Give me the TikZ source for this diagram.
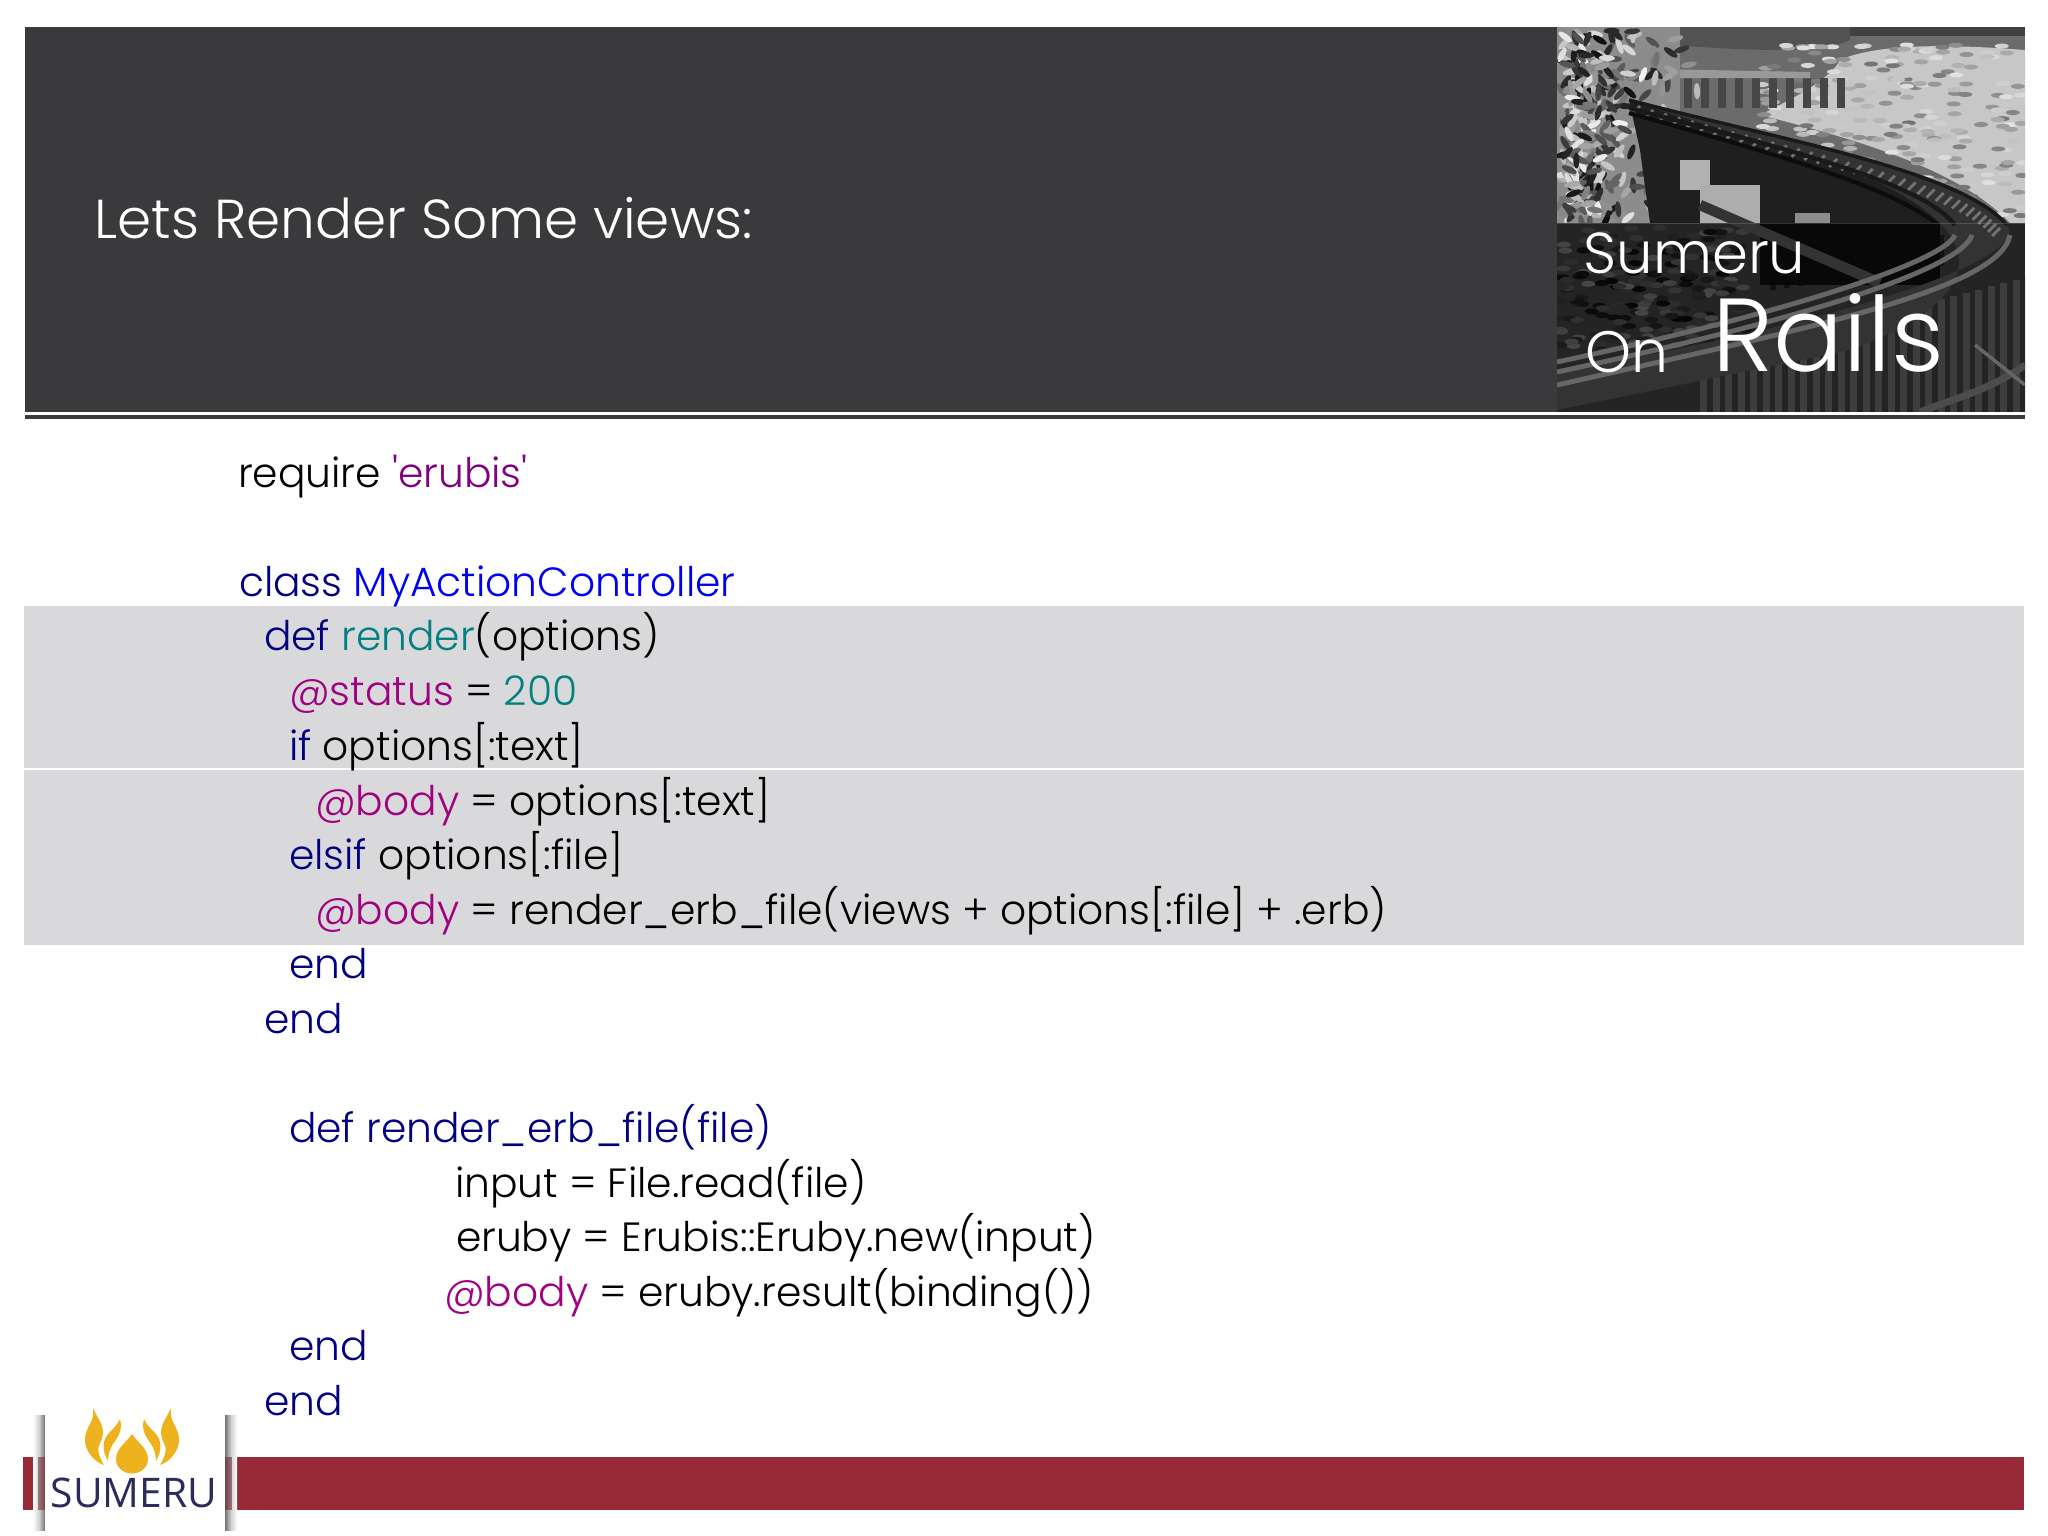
\documentclass[tikz,border=0pt]{standalone}
\usepackage{fontspec}
\setmainfont{Poppins}[UprightFont=* Light]
\newfontfamily\logofont{Open Sans}
\usetikzlibrary{shadings}
\definecolor{hdr}{HTML}{3A3A3C}
\definecolor{kw}{HTML}{000080}
\definecolor{cls}{HTML}{0000F0}
\definecolor{tl}{HTML}{008080}
\definecolor{iv}{HTML}{A00080}
\definecolor{st}{HTML}{800080}
\definecolor{band}{HTML}{D9D9DB}
\definecolor{barred}{HTML}{982A38}
\definecolor{gold}{HTML}{EDB21E}
\definecolor{logotxt}{HTML}{2C2C5A}
\newcommand{\Kw}[1]{\textcolor{kw}{#1}}
\newcommand{\Iv}[1]{\textcolor{iv}{#1}}
\newcommand{\Tl}[1]{\textcolor{tl}{#1}}
\tikzset{
  code/.style={anchor=base west,inner sep=0pt,outer sep=0pt,font=\fontsize{11.6pt}{14pt}\selectfont,text=black},
  titletext/.style={anchor=base west,inner sep=0pt,text=white,font=\fontsize{15.6pt}{18pt}\selectfont},
  phototext/.style={anchor=base west,inner sep=0pt,text=white},
}
\begin{document}
\begin{tikzpicture}[x=0.01cm,y=-0.01cm]
\useasboundingbox (0,0) rectangle (2048,1536);
\fill[white] (0,0) rectangle (2048,1536);
% header
\fill[hdr] (25,27) rectangle (2025,412);
\fill[hdr] (25,415) rectangle (2025,419);
\node[titletext] (title) at (94,238) {Lets Render Some views:};
% photo
\begin{scope}
\clip (1557,27) rectangle (2025,412);
\fill[black!58] (1557,27) rectangle (2025,223);
\fill[black!75] (1557,27) rectangle (2025,36);
\fill[black!68] (1557,36) .. controls (1680,45) and (1810,60) .. (1850,40) -- (1850,27) -- (1557,27) -- cycle;
% hillside
\fill[black!22] (1840,60) .. controls (1880,42) and (1960,45) .. (2025,50) -- (2025,223) -- (2010,223) .. controls (1960,170) and (1860,140) .. (1760,115) .. controls (1790,100) and (1830,80) .. (1840,60) -- cycle;
\pgfmathsetseed{11}
\foreach \i in {1,...,260}{
  \pgfmathsetmacro{\px}{1760+265*rnd}
  \pgfmathsetmacro{\py}{45+175*rnd}
  \pgfmathsetmacro{\sh}{10+45*rnd}
  \fill[black!\sh] (\px,\py) ellipse (7 and 2.5);
}
% fence in background
\foreach \i in {0,...,11}{
  \fill[black!72] ({1650+\i*17},78) rectangle ({1658+\i*17},108);
}
\fill[black!40] (1600,68) -- (1810,72) -- (1810,78) -- (1600,78) -- cycle;
% foliage
\fill[black!45] (1557,27) rectangle (1680,223);
\foreach \i in {1,...,320}{
  \pgfmathsetmacro{\px}{1557+125*rnd*rnd+20*rnd}
  \pgfmathsetmacro{\py}{30+193*rnd}
  \pgfmathsetmacro{\sh}{5+90*rnd}
  \pgfmathsetmacro{\an}{360*rnd}
  \fill[black!\sh,rotate around={\an:(\px,\py)}] (\px,\py) ellipse (8 and 3);
}
% deck, dark structure
\fill[black!88] (1629,100) .. controls (1760,135) and (1900,170) .. (1940,223) -- (1760,223) -- (1650,223) -- (1640,150) -- cycle;
\fill[black!30] (1680,160) rectangle (1710,190);
\fill[black!32] (1700,185) rectangle (1760,223);
\fill[black!45] (1795,213) rectangle (1830,223);
% lower darkened band
\fill[black!86] (1557,223) rectangle (2025,412);
\pgfmathsetseed{5}
\foreach \i in {1,...,220}{
  \pgfmathsetmacro{\px}{1557+190*rnd}
  \pgfmathsetmacro{\py}{226+120*rnd}
  \pgfmathsetmacro{\sh}{72+26*rnd}
  \fill[black!\sh] (\px,\py) ellipse (7 and 3);
}
\foreach \i in {0,...,26}{
  \fill[black!76] ({1700+\i*12.5},{360-\i*3.2}) rectangle ({1707+\i*12.5},412);
}
\foreach \i in {0,...,12}{
  \fill[black!93] ({1770+\i*14},235) rectangle ({1776+\i*14},{290-\i*2});
}
\fill[black!97] (1760,223) rectangle (1940,285);
\draw[black!80,line width=3pt] (1700,205) -- (1880,283);
% rails
\fill[black!80] (1629,100) .. controls (1780,140) and (1960,170) .. (2007,225)
 .. controls (2030,260) and (1850,320) .. (1557,372) -- (1557,410) -- (1850,350)
 .. controls (2010,290) and (1960,230) .. (1910,200) .. controls (1850,160) and (1730,135) .. (1629,100) -- cycle;
\foreach \i in {0,...,34}{
  \pgfmathsetmacro{\tt}{\i/34}
  \draw[black!55,line width=0.8pt]
    ({(1-\tt)*(1-\tt)*(1-\tt)*1640+3*(1-\tt)*(1-\tt)*\tt*1790+3*(1-\tt)*\tt*\tt*1960+\tt*\tt*\tt*2000},
     {(1-\tt)*(1-\tt)*(1-\tt)*106+3*(1-\tt)*(1-\tt)*\tt*150+3*(1-\tt)*\tt*\tt*180+\tt*\tt*\tt*228})
    -- ++(-8,8);
}
\draw[black!90,line width=1pt] (1629,100) .. controls (1780,140) and (1960,170) .. (2007,225);
\draw[black!90,line width=1.2pt] (1629,108) .. controls (1770,145) and (1920,180) .. (1955,225);
\draw[black!95,line width=1.2pt] (1629,113) .. controls (1760,150) and (1890,185) .. (1938,225);
\draw[black!60,line width=1.4pt] (2010,235) .. controls (2000,290) and (1800,330) .. (1557,385);
\draw[black!60,line width=1.4pt] (1972,235) .. controls (1960,270) and (1800,320) .. (1557,372);
\draw[black!60,line width=1.4pt] (1955,235) .. controls (1945,260) and (1800,310) .. (1557,362);
\draw[black!70,line width=2pt] (2025,365) .. controls (1990,390) and (1950,400) .. (1920,412);
\draw[black!60,line width=1pt] (1975,345) -- (2025,385);
% band top edge
\fill[black!30,opacity=.25] (1557,223) rectangle (2025,224);
\end{scope}
\node[phototext,font=\fontsize{16.4pt}{18pt}\selectfont] (sumeru) at (1583,273) {Sumeru};
\node[phototext,font=\fontsize{16.6pt}{18pt}\selectfont] (on) at (1585,372) {On};
\node[phototext,font=\fontsize{29.5pt}{32pt}\selectfont] (rails) at (1712,371) {Rails};
\fill[white] (1557,412.2) rectangle (2025,413.5);
% bands
\fill[band] (24,606) rectangle (2024,768);
\fill[band] (24,770) rectangle (2024,945);
% code
\node[code] (l0) at (238,487) {require \textcolor{st}{\textquotesingle erubis\textquotesingle}};
\node[code] (l2) at (239,596) {\Kw{class} \textcolor{cls}{MyActionController}};
\node[code] (l3) at (264,650.5) {\Kw{def} \Tl{render}(options)};
\node[code] (l4) at (289,705) {\Iv{@status} = \Tl{200}};
\node[code] (l5) at (289,760) {\Kw{if} options[:text]};
\node[code] (l6) at (315,815) {\Iv{@body} = options[:text]};
\node[code] (l7) at (289,869) {\Kw{elsif} options[:file]};
\node[code] (l8) at (315,924) {\Iv{@body} = render\_erb\_file(views + options[:file] + .erb)};
\node[code,text=kw] (l9) at (289,978) {end};
\node[code,text=kw] (l10) at (264,1033) {end};
\node[code,text=kw] (l12) at (289,1142) {def render\_erb\_file(file)};
\node[code] (l13) at (455,1197) {input = File.read(file)};
\node[code] (l14) at (456,1251) {eruby = Erubis::Eruby.new(input)};
\node[code] (l15) at (444,1306) {\Iv{@body} = eruby.result(binding())};
\node[code,text=kw] (l16) at (289,1360) {end};
\node[code,text=kw] (l17) at (264,1415) {end};
% footer bar
\fill[barred] (23,1457) rectangle (2024,1510);
% logo card
\shade[left color=white,right color=black!55,middle color=black!18] (33,1415) rectangle (45,1530);
\shade[left color=black!55,right color=white,middle color=black!18] (225,1415) rectangle (237,1530);
\fill[barred!70!black,opacity=.55] (38,1457) rectangle (45,1510);
\fill[barred!70!black,opacity=.55] (225,1457) rectangle (232,1510);
\fill[white] (45,1412) rectangle (225,1536);
% flames
\begin{scope}[fill=gold]
\fill (132,1434) .. controls (137,1442) and (148,1448) .. (148,1459) .. controls (148,1468) and (140,1473.5) .. (132,1473.5) .. controls (124,1473.5) and (116,1468) .. (116,1459) .. controls (116,1448) and (127,1442) .. (132,1434) -- cycle;
\fill (93,1408) .. controls (98,1420) and (108,1428) .. (100,1443) .. controls (96,1450) and (100,1458) .. (104,1465) .. controls (94,1462) and (84,1450) .. (85,1438) .. controls (86,1426) and (95,1422) .. (93,1408) -- cycle;
\fill (120,1419) .. controls (123,1430) and (118,1437) .. (113,1444) .. controls (110,1449) and (108,1454) .. (108,1461) .. controls (103,1452) and (102,1444) .. (106,1437) .. controls (109,1431) and (116,1428) .. (120,1419) -- cycle;
\fill (171,1408) .. controls (166,1420) and (156,1428) .. (164,1443) .. controls (168,1450) and (164,1458) .. (160,1465) .. controls (170,1462) and (180,1450) .. (179,1438) .. controls (178,1426) and (169,1422) .. (171,1408) -- cycle;
\fill (144,1419) .. controls (141,1430) and (146,1437) .. (151,1444) .. controls (154,1449) and (156,1454) .. (156,1461) .. controls (161,1452) and (162,1444) .. (158,1437) .. controls (155,1431) and (148,1428) .. (144,1419) -- cycle;
\end{scope}
\node[anchor=base,inner sep=0pt,text=logotxt,font=\logofont\fontsize{11.6pt}{14pt}\selectfont] (logo) at (134,1507) {SUMERU};
\end{tikzpicture}
\end{document}
